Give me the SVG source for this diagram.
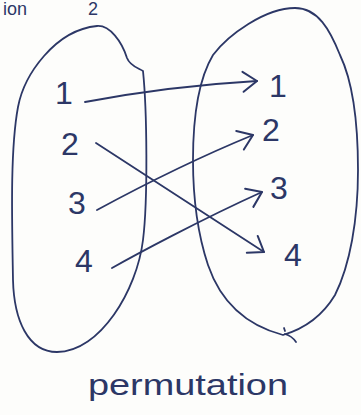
<svg xmlns="http://www.w3.org/2000/svg" width="361" height="415" viewBox="0 0 361 415">
<style>
.ink{fill:none;stroke:#2c3766;stroke-width:1.8;stroke-linecap:round;stroke-linejoin:round}
.num{font-family:"Liberation Sans","DejaVu Sans",sans-serif;fill:#2c3766;font-size:32px}
.lbl{font-family:"Liberation Sans","DejaVu Sans",sans-serif;fill:#2c3766}
</style>
<defs>
<marker id="arr" markerUnits="userSpaceOnUse" markerWidth="20" markerHeight="24" refX="16" refY="12" orient="auto" viewBox="0 0 20 24">
<path d="M2 2 L16 12 L2 22" fill="none" stroke="#2c3766" stroke-width="2" stroke-linecap="round" stroke-linejoin="round"/>
</marker>
</defs>
<rect width="361" height="415" fill="#fdfdfb"/>
<text class="lbl" x="3" y="15" font-size="18">ion</text>
<text class="lbl" x="88" y="15" font-size="18">2</text>
<g id="domain">
<path class="ink" d="M97 26 C110 25 122 42 127 58 C130 66 138 68 143 71 C147 110 148 200 143 240 C137 290 100 352 57 352 C28 352 14 320 13 280 C12 220 10 150 18 107 C24 75 55 30 97 26 Z"/>
<text class="num" x="55" y="104">1</text>
<text class="num" x="61" y="155">2</text>
<text class="num" x="68" y="214">3</text>
<text class="num" x="75" y="272">4</text>
</g>
<g id="codomain">
<path class="ink" d="M295 8 C265 8 228 35 213 55 C198 80 193 120 193 160 C193 200 198 235 208 265 C220 300 245 325 283 335 C300 330 320 320 335 295 C350 265 358 220 358 170 C358 120 352 80 340 55 C330 30 318 8 295 8 Z"/>
<path class="ink" d="M284 328 L285 331 M285 334 Q292 336 296 342"/>
<text class="num" x="269" y="97">1</text>
<text class="num" x="262" y="141">2</text>
<text class="num" x="270" y="199">3</text>
<text class="num" x="284" y="266">4</text>
</g>
<g id="connectors">
<path class="ink" marker-end="url(#arr)" d="M85 102 Q170 86 257 81"/>
<path class="ink" marker-end="url(#arr)" d="M96 143 L264 252"/>
<path class="ink" marker-end="url(#arr)" d="M97 210 Q180 165 253 135"/>
<path class="ink" marker-end="url(#arr)" d="M112 268 C135 255 200 220 262 192"/>
</g>
<text class="lbl" x="88" y="395" font-size="30" textLength="200" lengthAdjust="spacingAndGlyphs">permutation</text>
</svg>
